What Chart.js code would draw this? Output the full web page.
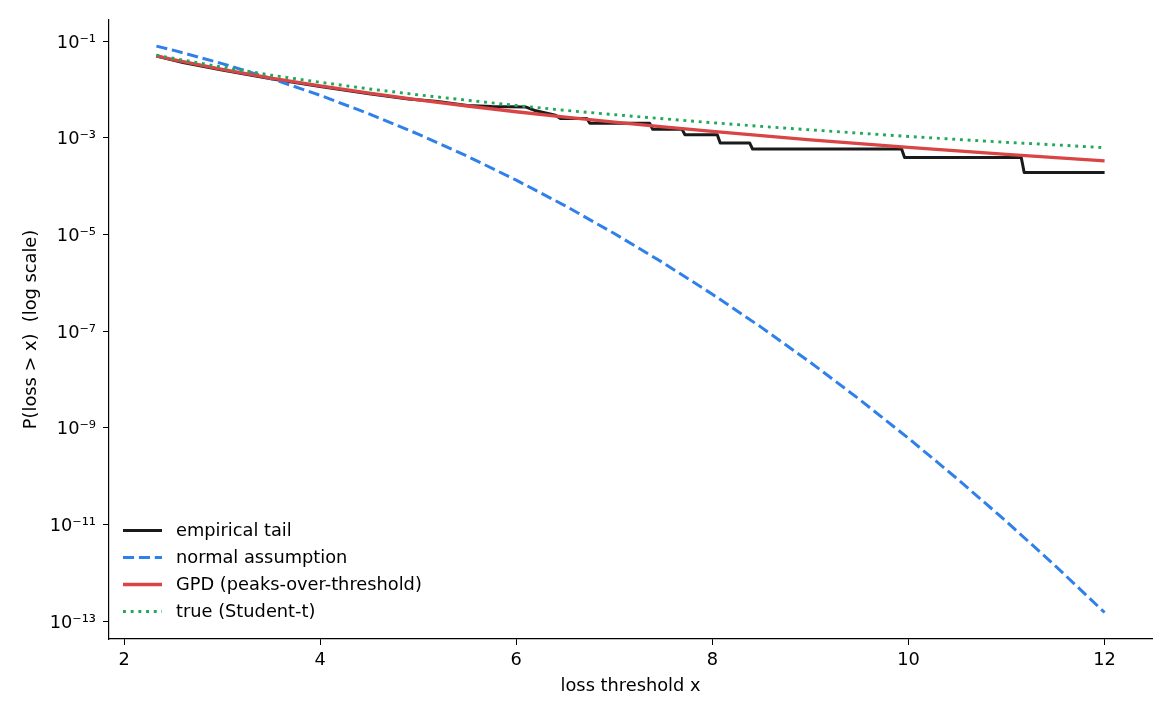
<!DOCTYPE html>
<html><head><meta charset="utf-8">
<script src="https://cdn.jsdelivr.net/npm/chart.js@4.4.1/dist/chart.umd.min.js"></script>
<style>html,body{margin:0;padding:0;background:#fff;} canvas{display:block;}</style>
</head><body>
<canvas id="c" width="1170" height="715"></canvas>
<script>
// ---- data ----
const gridX   = [2.33, 2.5, 3.0, 3.5, 4.0, 4.5, 5.0, 5.5, 6.0, 6.5, 7.0, 7.5, 8.0, 8.5, 9.0, 9.5, 10.0, 10.5, 11.0, 11.5, 12.0];
const normalP = [0.0783, 0.0646, 0.0341, 0.0167, 0.00752, 0.00311, 0.001185, 4.14e-4, 1.32e-4, 3.89e-5, 1.04e-5, 2.57e-6, 5.77e-7, 1.19e-7, 2.24e-8, 3.85e-9, 6.05e-10, 8.68e-11, 1.14e-11, 1.37e-12, 1.50e-13];
const gpdP    = [0.0490, 0.0413, 0.02596, 0.01712, 0.01175, 0.00833, 0.00606, 0.00452, 0.00344, 0.00266, 0.00209, 0.00167, 0.00135, 0.00110, 0.000903, 0.000751, 0.000629, 0.000531, 0.000451, 0.000386, 0.000332];
const trueP   = [0.0510, 0.0439, 0.0288, 0.0196, 0.0140, 0.0102, 0.00769, 0.00595, 0.00464, 0.00367, 0.00299, 0.00246, 0.00204, 0.00171, 0.00145, 0.00124, 0.00106, 0.00092, 0.00080, 0.00071, 0.00062];
const empX    = [2.33, 2.6, 3.0, 3.5, 4.0, 4.5, 4.9, 5.2, 5.5, 5.75, 6.1, 6.2, 6.4, 6.45, 6.72, 6.75, 7.36, 7.39, 7.69, 7.72, 8.05, 8.08, 8.38, 8.41, 9.93, 9.96, 11.15, 11.18, 12.0];
const empP    = [0.049, 0.0357, 0.0250, 0.0166, 0.0114, 0.0081, 0.0063, 0.0056, 0.00465, 0.0044, 0.0043, 0.0036, 0.0029, 0.00249, 0.00249, 0.0020, 0.0020, 0.0015, 0.0015, 0.00115, 0.00115, 0.00078, 0.00078, 0.00058, 0.00058, 0.00039, 0.00039, 0.00019, 0.00019];
const xTicks      = [2, 4, 6, 8, 10, 12];
const yTickValues = [1e-13, 1e-11, 1e-9, 1e-7, 1e-5, 1e-3, 1e-1];
const yTickLabels = ['10⁻¹³', '10⁻¹¹', '10⁻⁹', '10⁻⁷', '10⁻⁵', '10⁻³', '10⁻¹'];
const seriesLabels = ['empirical tail', 'normal assumption', 'GPD (peaks-over-threshold)', 'true (Student-t)'];
const xTitle = 'loss threshold x';
const yTitle = 'P(loss > x)  (log scale)';

const FONT = 'DejaVu Sans';
const FS = 17.8;
Chart.defaults.font.family = FONT;
Chart.defaults.font.size = FS;
Chart.defaults.color = '#000';

const pts = (xs, ys) => xs.map((x, i) => ({x: x, y: ys[i]}));

const legendPlugin = {
  id: 'customLegend',
  afterDatasetsDraw(chart) {
    const ctx = chart.ctx;
    const ds = chart.data.datasets;
    ctx.save();
    ctx.font = FS + 'px "' + FONT + '"';
    ctx.textBaseline = 'middle';
    ctx.textAlign = 'left';
    ds.forEach((d, i) => {
      const y = 530.5 + i * 27;
      ctx.beginPath();
      ctx.setLineDash(d.borderDash || []);
      ctx.lineWidth = d.borderWidth;
      ctx.strokeStyle = d.borderColor;
      ctx.lineCap = 'butt';
      ctx.moveTo(123, y);
      ctx.lineTo(162, y);
      ctx.stroke();
      ctx.setLineDash([]);
      ctx.fillStyle = '#000';
      ctx.fillText(d.label, 176, y + 1);
    });
    ctx.restore();
  }
};

new Chart(document.getElementById('c'), {
  type: 'line',
  data: {
    datasets: [
      {label: seriesLabels[0], data: pts(empX, empP), borderColor: '#1a1a1a', borderWidth: 3.0, order: 4},
      {label: seriesLabels[1], data: pts(gridX, normalP), borderColor: '#2f80ea', borderWidth: 3.0, borderDash: [11.1, 4.8], order: 3},
      {label: seriesLabels[2], data: pts(gridX, gpdP), borderColor: '#d94545', borderWidth: 3.3, order: 2},
      {label: seriesLabels[3], data: pts(gridX, trueP), borderColor: '#22a85a', borderWidth: 2.9, borderDash: [2.9, 4.8], order: 1}
    ]
  },
  options: {
    responsive: false,
    animation: false,
    devicePixelRatio: 1,
    elements: {
      point: {radius: 0, hoverRadius: 0},
      line: {tension: 0, fill: false, borderJoinStyle: 'round', borderCapStyle: 'butt'}
    },
    layout: {padding: {left: 0, right: 18, top: 20, bottom: 0}},
    plugins: {legend: {display: false}, tooltip: {enabled: false}, title: {display: false}},
    scales: {
      x: {
        type: 'linear', min: 1.8465, max: 12.4835,
        afterBuildTicks: s => { s.ticks = xTicks.map(v => ({value: v})); },
        afterFit: s => { s.height = 76; },
        ticks: {autoSkip: false, maxRotation: 0, padding: 5, color: '#000', callback: v => String(v)},
        grid: {display: true, drawOnChartArea: false, drawTicks: true, tickLength: 6, color: '#000', tickWidth: 1},
        border: {display: true, color: '#000', width: 1.2},
        title: {display: true, text: xTitle, color: '#000', padding: {top: 0, bottom: 18}}
      },
      y: {
        type: 'logarithmic', min: 0.0000000000000425, max: 0.272,
        afterBuildTicks: s => { s.ticks = yTickValues.map(v => ({value: v})); },
        afterFit: s => { s.width = 109; },
        ticks: {autoSkip: false, padding: 7, labelOffset: 2, color: '#000', callback: (v, i) => yTickLabels[i]},
        grid: {display: true, drawOnChartArea: false, drawTicks: true, tickLength: 6, color: '#000', tickWidth: 1},
        border: {display: true, color: '#000', width: 1.2},
        title: {display: true, text: yTitle, color: '#000', padding: {top: 21, bottom: 0}}
      }
    }
  },
  plugins: [legendPlugin]
});
</script>
</body></html>
